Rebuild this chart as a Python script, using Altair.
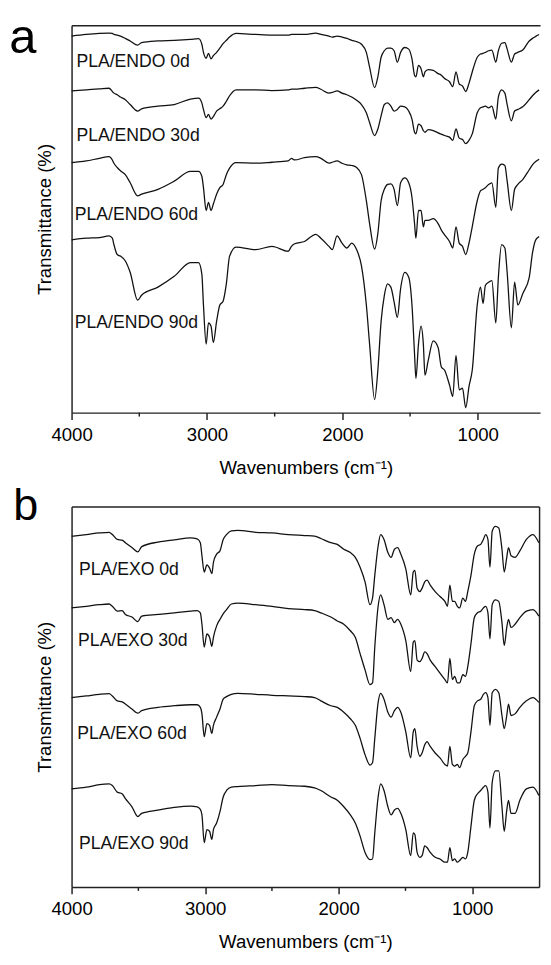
import altair as alt
import pandas as pd

FONT = "Liberation Sans"

# ---------------- panel a : PLA/ENDO (transmittance in arbitrary units) ----------------
WN_A = [4000, 3892, 3795, 3723, 3699, 3687, 3663, 3639, 3603, 3567,
        3512, 3483, 3362, 3242, 3122, 3062, 3038, 3026, 3006, 2989,
        2970, 2953, 2929, 2905, 2881, 2857, 2833, 2785, 2641, 2520,
        2400, 2376, 2352, 2280, 2196, 2159, 2099, 2075, 2039, 2003,
        1967, 1931, 1895, 1859, 1823, 1799, 1762, 1738, 1714, 1690,
        1666, 1642, 1618, 1594, 1570, 1539, 1510, 1486, 1467, 1457,
        1438, 1419, 1402, 1390, 1366, 1329, 1293, 1269, 1245, 1209,
        1185, 1161, 1137, 1113, 1089, 1065, 1041, 1004, 980, 961,
        944, 920, 896, 867, 848, 824, 800, 783, 752, 728,
        704, 668, 620, 596, 572, 547]

ENDO_0D = [1155, 1160, 1163, 1164, 1163, 1160, 1158, 1155, 1148, 1140,
           1127, 1135, 1140, 1142, 1145, 1147, 1130, 1105, 1087, 1102,
           1085, 1095, 1105, 1118, 1132, 1142, 1152, 1163, 1160, 1158,
           1158, 1160, 1160, 1160, 1164, 1160, 1155, 1152, 1155, 1152,
           1148, 1142, 1138, 1130, 1105, 1060, 997, 1030, 1090, 1110,
           1118, 1118, 1110, 1075, 1105, 1120, 1115, 1085, 1035, 1030,
           1065, 1055, 1030, 1045, 1052, 1050, 1040, 1035, 1025, 1015,
           1000, 1045, 1008, 1002, 985, 1010, 1045, 1090, 1100, 1102,
           1105, 1110, 1112, 1075, 1110, 1133, 1135, 1115, 1075, 1100,
           1105, 1112, 1140, 1148, 1154, 1160]

ENDO_30D = [987, 990, 993, 995, 985, 980, 975, 968, 960, 945,
            925, 932, 940, 945, 962, 965, 950, 930, 905, 915,
            900, 908, 925, 932, 940, 955, 972, 990, 990, 988,
            990, 992, 992, 995, 998, 992, 980, 982, 987, 980,
            975, 968, 958, 945, 920, 890, 850, 870, 910, 945,
            950, 940, 925, 930, 940, 938, 925, 900, 860, 855,
            885, 880, 865, 860, 868, 865, 858, 854, 850, 845,
            835, 870, 842, 838, 825, 835, 855, 920, 935, 938,
            940, 935, 940, 900, 968, 990, 980, 945, 895, 925,
            930, 938, 960, 972, 982, 990]

ENDO_60D = [767, 772, 780, 785, 775, 765, 752, 742, 730, 705,
            665, 670, 685, 710, 740, 740, 725, 690, 620, 645,
            620, 640, 670, 690, 700, 730, 750, 767, 765, 768,
            772, 780, 775, 782, 785, 780, 765, 768, 772, 765,
            760, 758, 752, 730, 650, 580, 502, 550, 650, 685,
            700, 702, 685, 635, 705, 720, 705, 660, 580, 535,
            620, 620, 570, 590, 590, 595, 580, 560, 545, 525,
            505, 570, 520, 510, 485, 520, 570, 650, 680, 685,
            690, 700, 705, 630, 750, 762, 758, 710, 620, 685,
            700, 715, 745, 760, 770, 777]

ENDO_90D = [530, 535, 537, 542, 535, 515, 485, 480, 465, 430,
            345, 360, 385, 418, 460, 460, 425, 330, 210, 275,
            265, 215, 280, 330, 342, 395, 480, 508, 500, 510,
            495, 510, 518, 525, 547, 535, 510, 500, 542, 520,
            505, 520, 500, 450, 330, 210, 40, 130, 280, 360,
            395, 385, 340, 292, 380, 430, 415, 330, 180, 105,
            210, 265, 210, 115, 160, 220, 200, 140, 130, 85,
            50, 175, 70, 75, 15, 80, 130, 330, 385, 335,
            390, 400, 405, 275, 415, 515, 505, 430, 260, 400,
            330, 365, 415, 490, 530, 540]

ENDO_NAMES = ["PLA/ENDO 0d", "PLA/ENDO 30d", "PLA/ENDO 60d", "PLA/ENDO 90d"]
ENDO_LABEL_WN = [3964, 3964, 3976, 3976]
ENDO_LABEL_T = [1060, 833, 590, 260]

# ---------------- panel b : PLA/EXO ----------------
WN_B = [4000, 3890, 3792, 3719, 3695, 3658, 3622, 3597, 3548, 3504,
        3475, 3353, 3231, 3109, 3060, 3036, 3024, 3007, 2987, 2967,
        2950, 2938, 2914, 2889, 2865, 2840, 2804, 2755, 2621, 2499,
        2377, 2255, 2181, 2134, 2059, 2011, 1962, 1913, 1876, 1840,
        1803, 1766, 1747, 1730, 1705, 1686, 1661, 1632, 1608, 1583,
        1559, 1535, 1498, 1461, 1442, 1430, 1413, 1393, 1376, 1356,
        1339, 1315, 1278, 1242, 1205, 1186, 1168, 1149, 1132, 1112,
        1095, 1071, 1051, 1034, 1010, 985, 961, 937, 917, 900,
        883, 868, 851, 827, 802, 778, 761, 742, 729, 710,
        680, 644, 595, 546, 502]

EXO_0D = [1076, 1081, 1086, 1088, 1081, 1066, 1064, 1056, 1041, 1028,
          1044, 1058, 1065, 1071, 1068, 1056, 1016, 966, 988, 978,
          961, 996, 1021, 1031, 1066, 1081, 1092, 1094, 1088, 1086,
          1081, 1078, 1076, 1069, 1056, 1051, 1036, 1026, 1011, 981,
          936, 866, 886, 956, 1046, 1081, 1066, 1026, 1011, 1036,
          1041, 1021, 976, 896, 966, 971, 916, 906, 916, 936,
          941, 926, 906, 891, 876, 861, 926, 876, 876, 861,
          856, 886, 876, 906, 956, 1021, 1046, 1051, 1066, 1081,
          1066, 981, 1091, 1106, 1101, 1036, 966, 1011, 1041, 1016,
          1011, 1031, 1066, 1081, 1056]

EXO_30D = [856, 861, 866, 868, 861, 846, 848, 836, 828, 814,
           831, 836, 841, 846, 848, 841, 806, 736, 776, 766,
           738, 766, 801, 821, 838, 851, 868, 871, 866, 861,
           854, 851, 848, 841, 828, 816, 806, 786, 766, 716,
           666, 621, 626, 736, 861, 896, 866, 821, 826, 811,
           821, 806, 756, 661, 751, 756, 696, 691, 701, 721,
           716, 696, 676, 656, 636, 626, 701, 636, 646, 626,
           626, 651, 646, 676, 746, 826, 841, 846, 856, 861,
           841, 761, 866, 881, 876, 811, 741, 796, 821, 796,
           806, 826, 846, 851, 831]

EXO_60D = [581, 586, 591, 593, 586, 571, 568, 561, 546, 533,
           541, 551, 556, 559, 559, 551, 531, 461, 501, 496,
           471, 496, 521, 546, 576, 584, 591, 594, 591, 588,
           586, 584, 581, 571, 556, 551, 536, 516, 496, 456,
           406, 374, 381, 456, 566, 594, 576, 536, 521, 541,
           551, 536, 476, 396, 476, 486, 431, 401, 411, 436,
           446, 431, 411, 396, 376, 371, 431, 376, 371, 376,
           366, 391, 401, 411, 476, 556, 571, 576, 591, 596,
           581, 496, 596, 606, 596, 526, 486, 526, 561, 526,
           531, 551, 571, 581, 566]

EXO_90D = [301, 306, 314, 316, 311, 291, 286, 271, 246, 216,
           226, 236, 244, 248, 246, 238, 221, 136, 176, 171,
           146, 176, 196, 231, 276, 296, 306, 308, 311, 314,
           311, 309, 304, 296, 276, 266, 246, 221, 196, 156,
           106, 84, 86, 166, 276, 316, 296, 246, 221, 236,
           241, 226, 176, 96, 166, 161, 106, 91, 96, 126,
           121, 106, 91, 86, 76, 76, 121, 81, 86, 76,
           81, 91, 86, 106, 186, 266, 286, 296, 306, 311,
           291, 181, 321, 356, 356, 246, 171, 236, 266, 226,
           226, 266, 301, 306, 281]

EXO_NAMES = ["PLA/EXO 0d", "PLA/EXO 30d", "PLA/EXO 60d", "PLA/EXO 90d"]
EXO_LABEL_WN = [3944, 3951, 3958, 3944]
EXO_LABEL_T = [958, 738, 454, 118]

MAJOR_TICKS = [4000, 3000, 2000, 1000]
MINOR_TICKS = [3500, 2500, 1500]

INK = "#111111"
FRAME = "#222222"


def build_panel(wn, series, names, lab_wn, lab_t, x_end, y_max, width, height,
                letter, letter_x, letter_y, letter_size, right_border):
    rows = []
    for name, vals in zip(names, series):
        for w, v in zip(wn, vals):
            rows.append({"series": name, "wn": w, "t": v})
    df = pd.DataFrame(rows)
    lab = pd.DataFrame({"name": names, "wn": lab_wn, "t": lab_t})
    minor = pd.DataFrame({"wn": MINOR_TICKS})

    xs = alt.Scale(domain=[4000, x_end], nice=False, zero=False)
    ys = alt.Scale(domain=[0, y_max], nice=False, zero=False)

    lines = alt.Chart(df).mark_line(color=INK, strokeWidth=1.3, interpolate="monotone").encode(
        x=alt.X("wn:Q", scale=xs,
                axis=alt.Axis(values=MAJOR_TICKS, format="d", title="Wavenumbers (cm⁻¹)",
                              orient="bottom", grid=False, labelFlush=False,
                              labelOverlap=False)),
        y=alt.Y("t:Q", scale=ys,
                axis=alt.Axis(labels=False, ticks=False, grid=False, orient="left",
                              title="Transmittance (%)", titlePadding=18)),
        detail="series:N",
    )

    y_right = (alt.Axis(orient="right", labels=False, ticks=False, grid=False, title=None)
               if right_border else None)
    labels = alt.Chart(lab).mark_text(
        align="left", baseline="alphabetic", font=FONT, fontSize=18, color=INK
    ).encode(
        x=alt.X("wn:Q", scale=xs,
                axis=alt.Axis(orient="top", labels=False, ticks=False, grid=False, title=None)),
        y=alt.Y("t:Q", scale=ys, axis=y_right),
        text="name:N",
    )

    minor_ticks = alt.Chart(minor).mark_rule(color=FRAME, strokeWidth=1.5).encode(
        x=alt.X("wn:Q", scale=xs, axis=None),
        y=alt.value(height),
        y2=alt.value(height + 4),
    )

    letter_layer = alt.Chart(pd.DataFrame({"txt": [letter]})).mark_text(
        align="left", baseline="alphabetic", font=FONT, fontSize=letter_size, color="black"
    ).encode(x=alt.value(letter_x), y=alt.value(letter_y), text="txt:N")

    return alt.layer(lines, labels, minor_ticks, letter_layer).resolve_axis(
        x="independent", y="independent"
    ).properties(width=width, height=height)


panel_a = build_panel(WN_A, [ENDO_0D, ENDO_30D, ENDO_60D, ENDO_90D], ENDO_NAMES,
                      ENDO_LABEL_WN, ENDO_LABEL_T, 540, 1188, 479, 396,
                      "a", -63.7, 28, 50, False)
panel_b = build_panel(WN_B, [EXO_0D, EXO_30D, EXO_60D, EXO_90D], EXO_NAMES,
                      EXO_LABEL_WN, EXO_LABEL_T, 500, 1167, 478, 389,
                      "b", -59.7, 14, 46, True)

chart = alt.vconcat(panel_a, panel_b, spacing=5).properties(
    padding={"left": 0, "top": -6, "right": 0, "bottom": 0},
    background="white",
).configure_view(stroke="transparent").configure_axis(
    domainColor=FRAME, domainWidth=1.5,
    tickColor=FRAME, tickWidth=1.5, tickSize=7,
    labelFont=FONT, labelFontSize=19, labelColor="black", labelPadding=6,
    titleFont=FONT, titleFontSize=19, titleColor="black", titleFontWeight="normal",
    titlePadding=15,
)

chart.save("out.html", embed_options={"renderer": "svg", "actions": False})
